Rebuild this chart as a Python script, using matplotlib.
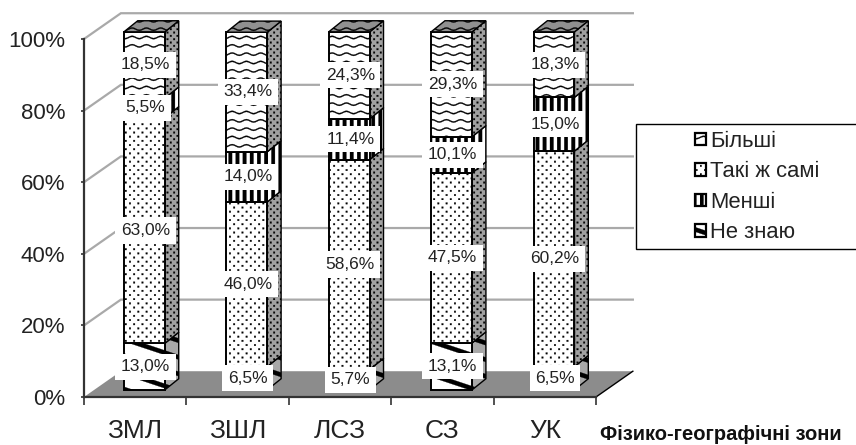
import numpy as np
import matplotlib
matplotlib.use("Agg")
import matplotlib.pyplot as plt
import matplotlib.hatch as mhatch
from matplotlib.path import Path
from matplotlib.patches import Polygon, Patch, Rectangle

plt.rcParams['font.family'] = ['Liberation Sans', 'DejaVu Sans']
plt.rcParams['hatch.linewidth'] = 0.2

zones = ['ЗМЛ', 'ЗШЛ', 'ЛСЗ', 'СЗ', 'УК']
ne_znayu = [13.0, 6.5, 5.7, 13.1, 6.5]
taki_sami = [63.0, 46.0, 58.6, 47.5, 60.2]
menshi = [5.5, 14.0, 11.4, 10.1, 15.0]
bilshi = [18.5, 33.4, 24.3, 29.3, 18.3]
series_names = ['Не знаю', 'Такі ж самі', 'Менші', 'Більші']
y_ticks = [0, 20, 40, 60, 80, 100]


# власні штриховки: хвилі, смуги, товсті діагоналі, крапки
class ChartHatch(mhatch.HatchPatternBase):
    def __init__(self, hatch, density):
        self.shapes = []
        if 'w' in hatch:
            xs = np.linspace(0, 1, 57)
            for row in range(12):
                mid = (row + 0.5) / 12
                up = mid + 0.012 * np.sin(2 * np.pi * 7 * xs) + 0.006
                low = up - 0.012
                pts = np.vstack([np.column_stack([xs, up]), np.column_stack([xs[::-1], low[::-1]])])
                self.shapes.append(pts)
        if 'b' in hatch:
            for k in range(14):
                left = k / 14
                self.shapes.append(np.array([[left, 0], [left + 0.035, 0], [left + 0.035, 1], [left, 1]]))
        if 'd' in hatch:
            for k in range(-1, 10):
                c = k / 6
                self.shapes.append(np.array([[0, c], [1, c - 1 / 3], [1, c - 1 / 3 + 0.045], [0, c + 0.045]]))
        if 'p' in hatch or 'g' in hatch:
            n = 24 if 'p' in hatch else 30
            r = 0.008
            for i in range(n):
                for j in range(n):
                    if (i + j) % 2 == 0:
                        x = i / n
                        y = j / n
                        self.shapes.append(np.array([[x, y], [x + 2 * r, y], [x + 2 * r, y + 2 * r], [x, y + 2 * r]]))
        self.num_vertices = sum(len(s) + 1 for s in self.shapes)

    def set_vertices_and_codes(self, vertices, codes):
        pos = 0
        for s in self.shapes:
            size = len(s)
            vertices[pos:pos + size] = s
            vertices[pos + size] = s[0]
            codes[pos] = Path.MOVETO
            codes[pos + 1:pos + size] = Path.LINETO
            codes[pos + size] = Path.CLOSEPOLY
            pos += size + 1


mhatch._hatch_types.append(ChartHatch)

front_hatch = ['d', 'p', 'b', 'w']
side_hatch = ['d', 'g', 'b', 'g']
side_color = ['#a8a8a8', '#a0a0a0', '#ffffff', '#a0a0a0']

fig = plt.figure(figsize=(8.56, 4.45), dpi=100, facecolor='white')
ax = fig.add_axes([84 / 856, 48 / 445, 512 / 856, 358 / 445])
ax.set_xlim(0, 5)
ax.set_ylim(0, 100)

wall_dx = 0.36
wall_dy = 7.2
bar_left = 0.39
bar_width = 0.40
bar_lift = 2.0
depth_dx = 0.135
depth_dy = 3.1
grid_color = '#a9a9a9'
dark = '#333333'

# підлога і сітка
ax.add_patch(Polygon([[0, 0], [wall_dx, wall_dy], [5 + wall_dx, wall_dy], [5, 0]],
                     closed=True, facecolor='#8c8c8c', edgecolor='none', clip_on=False, zorder=1))
ax.plot([5, 5 + wall_dx], [0, wall_dy], color='black', lw=1, clip_on=False, zorder=1.5)
for t in y_ticks[1:]:
    ax.plot([0, wall_dx, 5 + wall_dx], [t, t + wall_dy, t + wall_dy], color=grid_color, lw=1.6,
            clip_on=False, zorder=1.2, solid_joinstyle='miter')

stack = [ne_znayu, taki_sami, menshi, bilshi]
for i in range(len(zones)):
    x0 = i + bar_left
    x1 = x0 + bar_width
    bottom = bar_lift
    for s, values in enumerate(stack):
        top = bottom + values[i]
        z = 3 + i + s * 0.1
        ax.add_patch(Polygon([[x1, bottom], [x1 + depth_dx, bottom + depth_dy],
                              [x1 + depth_dx, top + depth_dy], [x1, top]], closed=True,
                             facecolor=side_color[s], edgecolor='black', lw=1, hatch=side_hatch[s],
                             clip_on=False, zorder=z))
        ax.add_patch(Polygon([[x0, bottom], [x1, bottom], [x1, top], [x0, top]], closed=True,
                             facecolor='white', edgecolor='black', lw=1.4, hatch=front_hatch[s],
                             clip_on=False, zorder=z + 0.01))
        label = f'{values[i]:.1f}%'.replace('.', ',')
        ax.text((x0 + x1) / 2 + 0.01, (bottom + top) / 2, label, ha='center', va='center',
                fontsize=12.5, color='#222222', zorder=20,
                bbox=dict(facecolor='white', edgecolor='none', pad=4))
        bottom = top
    ax.add_patch(Polygon([[x0, bottom], [x1, bottom], [x1 + depth_dx, bottom + depth_dy],
                          [x0 + depth_dx, bottom + depth_dy]], closed=True,
                         facecolor='#909090', edgecolor='black', lw=1, hatch='w',
                         clip_on=False, zorder=3 + i + 0.5))

for side in ['top', 'right']:
    ax.spines[side].set_visible(False)
for side in ['left', 'bottom']:
    ax.spines[side].set_linewidth(1.6)
    ax.spines[side].set_color(dark)
    ax.spines[side].set_zorder(2)

ax.set_yticks(y_ticks)
ax.set_yticklabels([f'{t}%' for t in y_ticks], fontsize=16, color='#222222')
ax.set_xticks(range(len(zones) + 1))
ax.set_xticklabels([])
ax.set_xticks(np.arange(len(zones)) + 0.5, minor=True)
ax.set_xticklabels(zones, minor=True, fontsize=19, color='#222222')
ax.tick_params(axis='x', which='minor', length=0, pad=15.5)
ax.tick_params(axis='x', which='major', length=5.5, width=1.2, color=dark)
ax.tick_params(axis='y', which='major', length=2.5, width=1.2, color=dark, pad=11)

fig.text(600 / 856, 1 - 435 / 445, 'Фізико-географічні зони', fontsize=14.5, fontweight='bold',
         color='#111111', ha='left', va='center')

# рамка легенди доходить до краю картинки
fig.add_artist(Rectangle((636 / 856, 1 - 249 / 445), 230 / 856, 125 / 445, transform=fig.transFigure,
                         facecolor='white', edgecolor='black', lw=1))
handles = [Patch(facecolor='white', edgecolor='black', lw=1.6, hatch=front_hatch[3], label=series_names[3]),
           Patch(facecolor='white', edgecolor='black', lw=1.6, hatch=front_hatch[1], label=series_names[1]),
           Patch(facecolor='white', edgecolor='black', lw=1.6, hatch=front_hatch[2], label=series_names[2]),
           Patch(facecolor='white', edgecolor='black', lw=1.6, hatch=front_hatch[0], label=series_names[0])]
fig.legend(handles=handles, loc='center left', bbox_to_anchor=(684 / 856, 1 - 187 / 445), frameon=False,
           fontsize=15.8, handlelength=0.5, handleheight=0.5, handletextpad=0.2, labelspacing=0.43,
           borderpad=0, labelcolor='#222222')

fig.savefig('out.png', dpi=100)
